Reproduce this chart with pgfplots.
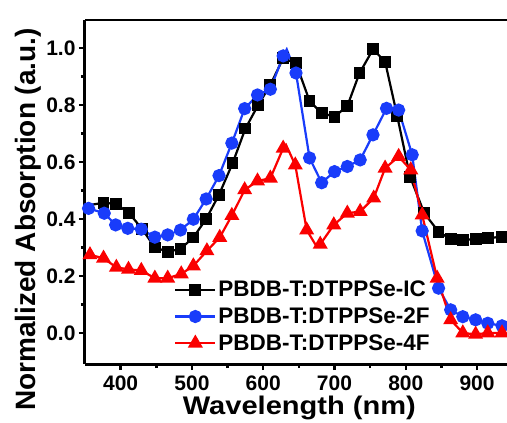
\documentclass[border=0pt]{standalone}
\usepackage{fontspec}
\setmainfont{Liberation Sans}
\newfontfamily\widefont[FakeStretch=1.14]{Liberation Sans}
\usepackage{pgfplots}
\pgfplotsset{compat=1.18}
\definecolor{myblue}{RGB}{25,60,250}
\definecolor{myred}{RGB}{250,0,0}
\begin{document}
\begin{tikzpicture}
\path[use as bounding box] (-85bp,-59bp) rectangle (422bp,364bp);
\begin{axis}[
  at={(0,0)}, anchor=south west,
  scale only axis, width=422bp, height=344bp,
  xmin=350, xmax=942, ymin=-0.109, ymax=1.098,
  axis x line*=bottom, axis y line*=left,
  axis line style={line width=3bp, black},
  xtick={400,500,600,700,800,900},
  ytick={0,0.2,0.4,0.6,0.8,1.0},
  minor x tick num=1, minor y tick num=1,
  tick align=outside,
  major tick length=6bp, minor tick length=4bp,
  every tick/.style={line width=2.5bp, black},
  /pgf/number format/assume math mode=true,
  yticklabel style={/pgf/number format/.cd, fixed, fixed zerofill, precision=1},
  xticklabel style={yshift=-2bp, /pgf/number format/.cd, set thousands separator={}},
  tick label style={font=\bfseries\fontsize{21bp}{25bp}\selectfont},
  xlabel={Wavelength (nm)},
  ylabel={Normalized Absorption (a.u.)},
  xlabel style={font=\widefont\bfseries\fontsize{25.5bp}{30bp}\selectfont, at={(axis description cs:0.508,-0.148)}, anchor=base, inner sep=0pt},
  ylabel style={font=\bfseries\fontsize{28bp}{32bp}\selectfont, at={(axis description cs:-0.102,0.42)}, anchor=south, inner sep=0pt},
  legend style={at={(axis description cs:0.211,0.247)}, anchor=north west, draw=none, fill=none,
    font=\bfseries\fontsize{22.5bp}{27bp}\selectfont, row sep=5.5bp, inner sep=0pt,
    /tikz/every even column/.append style={column sep=4bp}},
  legend cell align=left,
  legend image code/.code={\draw[#1,mark indices={2}] plot coordinates {(0bp,0bp) (20bp,0bp) (40bp,0bp)};},
]
\addplot[black, line width=2.2bp, mark=square*, mark size=4.8bp,
  mark indices={2,3,4,5,6,7,8,9,10,11,12,13,14,15,16,17,18,19,20,21,22,23,24,25,26,27,28,29,30,31,32,33}]
coordinates {
(360,0.45) (376,0.457) (394,0.452) (412,0.42) (430,0.365) (448,0.30) (466,0.285) (484,0.295)
(502,0.335) (520,0.40) (538,0.485) (557,0.595) (575,0.717) (593,0.80) (610,0.87) (628,0.964)
(646,0.946) (665,0.814) (682,0.771) (700,0.759) (718,0.796) (735,0.911) (754,0.995) (771,0.952)
(788,0.761) (806,0.548) (826,0.42) (846,0.355) (863,0.329) (880,0.326) (898,0.329) (915,0.332)
(935,0.338) (942,0.34)
};
\addlegendentry{PBDB-T:DTPPSe-IC}
\addplot[myblue, line width=2.2bp, mark=*, mark size=5.5bp, mark options={fill=myblue},
  mark indices={1,2,3,4,5,6,7,8,9,10,11,12,13,14,15,16,18,19,20,21,22,23,24,25,26,27,28,29,30,31,32,33,34}]
coordinates {
(355,0.437) (377,0.42) (393,0.379) (410,0.367) (429,0.364) (448,0.336) (466,0.344) (484,0.361)
(502,0.399) (520,0.470) (538,0.552) (556,0.666) (574,0.787) (592,0.835) (610,0.855) (628,0.972)
(633,0.995) (646,0.912) (665,0.614) (682,0.527) (700,0.566) (718,0.584) (736,0.607) (754,0.695)
(773,0.788) (790,0.782) (809,0.625) (823,0.358) (846,0.157) (863,0.081) (880,0.057) (898,0.046)
(915,0.034) (935,0.025)
};
\addlegendentry{PBDB-T:DTPPSe-2F}
\addplot[myred, line width=2.2bp, mark=triangle*, mark size=6.5bp, mark options={fill=myred},
  mark indices={1,2,3,4,5,6,7,8,9,10,11,12,13,14,15,16,18,19,21,22,23,24,25,26,27,28,29,30,31,32,33,34,35}]
coordinates {
(357,0.274) (376,0.262) (394,0.23) (411,0.223) (429,0.219) (448,0.192) (466,0.192) (485,0.207)
(502,0.235) (521,0.288) (539,0.335) (556,0.412) (574,0.502) (592,0.533) (610,0.543) (628,0.648)
(632,0.66) (645,0.589) (661,0.361) (675,0.303) (680,0.311) (699,0.379) (718,0.42) (736,0.426)
(755,0.473) (771,0.578) (790,0.619) (807,0.572) (823,0.414) (844,0.192) (863,0.046) (880,0.0)
(898,-0.005) (915,0.0) (935,0.0)
};
\addlegendentry{PBDB-T:DTPPSe-4F}
\draw[line width=3bp, black] (rel axis cs:0,1) -- (rel axis cs:1,1);
\end{axis}
\end{tikzpicture}
\end{document}
